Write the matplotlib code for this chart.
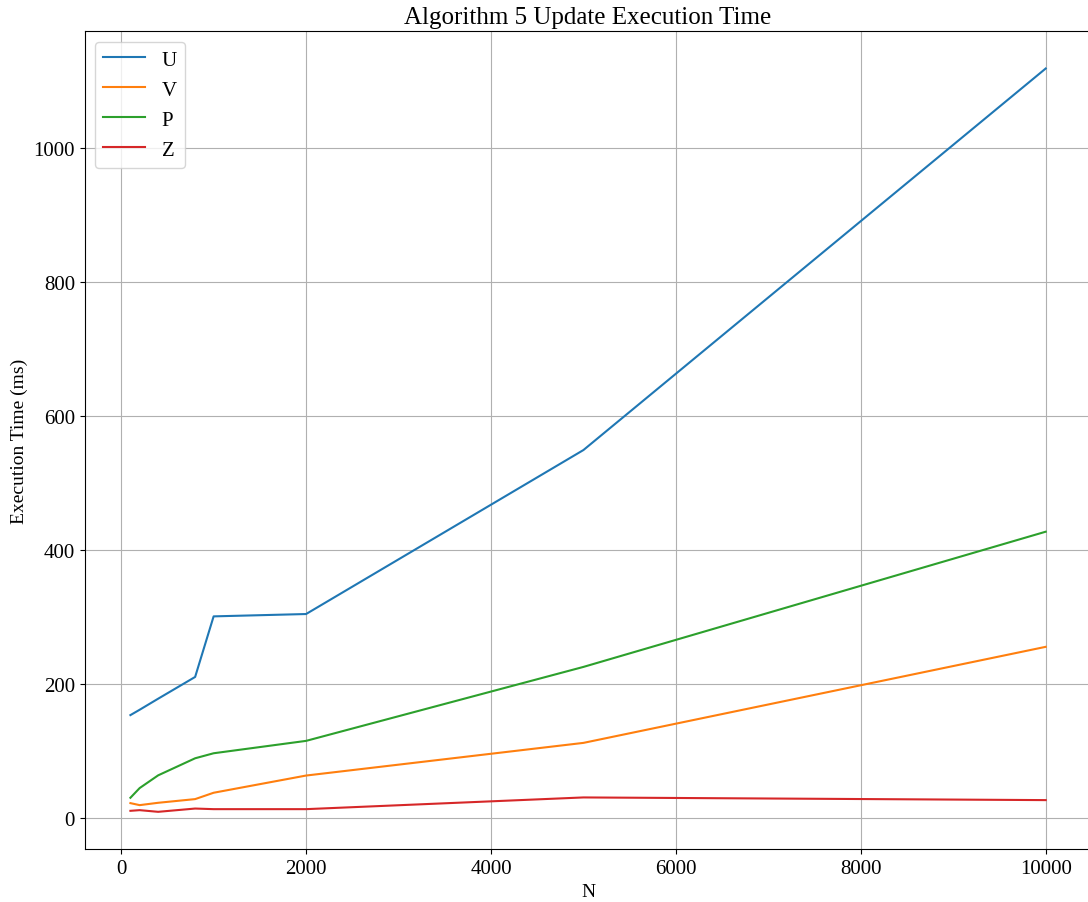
import matplotlib
matplotlib.use("Agg")
import matplotlib.pyplot as plt

plt.rcParams['font.family'] = ['Liberation Serif', 'DejaVu Serif']

N = [100, 200, 400, 800, 1000, 2000, 5000, 10000]
U = [153, 161, 177.5, 210, 300.5, 304, 549, 1119]
V = [21.5, 18.5, 22, 27.5, 37, 62.7, 111.5, 255]
P = [29.5, 44, 63, 88.5, 96, 114.5, 225, 427]
Z = [10, 11, 8.5, 13.4, 12.5, 12.5, 30, 26]

series = [("U", U), ("V", V), ("P", P), ("Z", Z)]

fig = plt.figure(figsize=(10.88, 9.03), dpi=100)
ax = fig.add_axes([0.0778, 0.0587, 0.9254, 0.9055])
for name, vals in series:
    ax.plot(N, vals, label=name, linewidth=1.5)

ax.set_title("Algorithm 5 Update Execution Time", fontsize=18)
ax.set_xlabel("N", fontsize=14)
ax.set_ylabel("Execution Time (ms)", fontsize=14)
ax.tick_params(labelsize=15)
ax.grid(True)
ax.legend(loc="upper left", fontsize=15)

fig.savefig("out.png", dpi=100)
